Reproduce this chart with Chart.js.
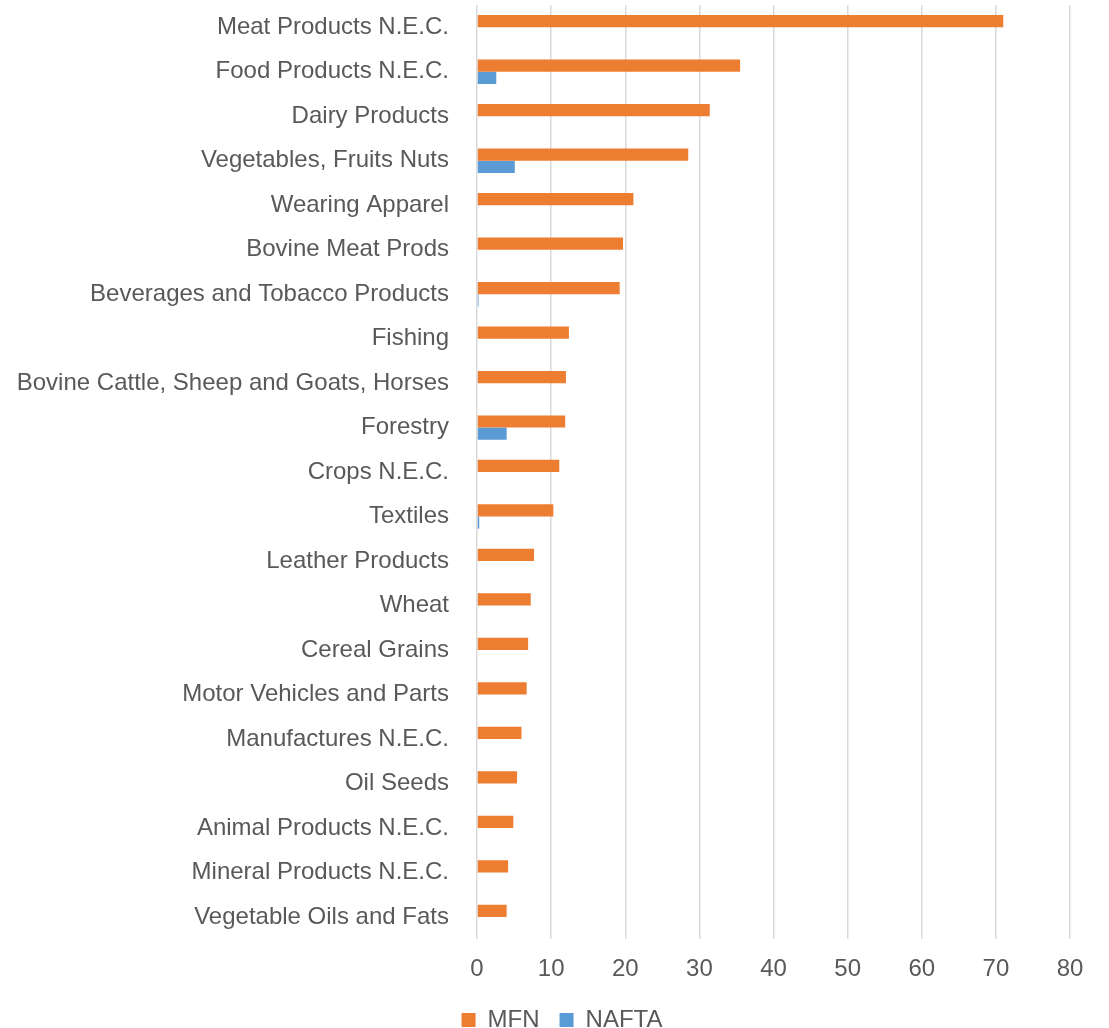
<!DOCTYPE html>
<html>
<head>
<meta charset="utf-8">
<script src="https://cdn.jsdelivr.net/npm/chart.js@4/dist/chart.umd.min.js"></script>
<style>
    html, body { margin: 0; padding: 0; background: #fff; }
    #wrap { width: 1109px; height: 1028px; position: relative; }
</style>
</head>
<body>
<div id="wrap"><canvas id="tariffChart"></canvas></div>
<script>
// Sectors, top to bottom
const sectors = [
    'Meat Products N.E.C.',
    'Food Products N.E.C.',
    'Dairy Products',
    'Vegetables, Fruits Nuts',
    'Wearing Apparel',
    'Bovine Meat Prods',
    'Beverages and Tobacco Products',
    'Fishing',
    'Bovine Cattle, Sheep and Goats, Horses',
    'Forestry',
    'Crops N.E.C.',
    'Textiles',
    'Leather Products',
    'Wheat',
    'Cereal Grains',
    'Motor Vehicles and Parts',
    'Manufactures N.E.C.',
    'Oil Seeds',
    'Animal Products N.E.C.',
    'Mineral Products N.E.C.',
    'Vegetable Oils and Fats'
];

// Tariff rates (%)
const mfnRates = [71.0, 35.5, 31.4, 28.5, 21.1, 19.7, 19.25, 12.4, 12.0, 11.9, 11.1, 10.3,
                  7.7, 7.25, 6.9, 6.7, 6.0, 5.4, 4.9, 4.2, 4.0];
const naftaRates = [0, 2.6, 0, 5.1, 0, 0, 0.2, 0, 0, 4.0, 0, 0.3,
                    0, 0, 0, 0, 0, 0, 0, 0, 0];

const xTicks = [0, 10, 20, 30, 40, 50, 60, 70, 80];

const textColor = '#595959';
const gridColor = '#D9D9D9';
const fontFamily = '"Liberation Sans", Arial, sans-serif';
const fontSize = 24;

const ctx = document.getElementById('tariffChart');
new Chart(ctx, {
    type: 'bar',
    data: {
        labels: sectors,
        datasets: [
            {
                label: 'MFN',
                data: mfnRates,
                backgroundColor: '#ED7D31',
                borderWidth: 0,
                categoryPercentage: 0.55,
                barPercentage: 1.0
            },
            {
                label: 'NAFTA',
                data: naftaRates,
                backgroundColor: '#5B9BD5',
                borderWidth: 0,
                categoryPercentage: 0.55,
                barPercentage: 1.0
            }
        ]
    },
    options: {
        indexAxis: 'y',
        responsive: true,
        maintainAspectRatio: false,
        animation: false,
        layout: {
            padding: { left: 15, right: 0, top: 5, bottom: -14 }
        },
        plugins: {
            legend: {
                display: true,
                position: 'bottom',
                labels: {
                    color: textColor,
                    font: { family: fontFamily, size: fontSize },
                    boxWidth: 14,
                    boxHeight: 14,
                    padding: 20
                }
            },
            tooltip: { enabled: false }
        },
        scales: {
            x: {
                min: 0,
                max: 80,
                afterBuildTicks: function(axis) {
                    axis.ticks = xTicks.map(v => ({ value: v }));
                },
                grid: {
                    color: gridColor,
                    lineWidth: 1.5,
                    drawTicks: false
                },
                border: { display: false },
                ticks: {
                    color: textColor,
                    font: { family: fontFamily, size: fontSize },
                    padding: 16
                },
                // pull the plot down toward the legend and keep room right of "80"
                afterFit: function(scale) {
                    scale.height -= 12;
                    scale.paddingRight = 39;
                }
            },
            y: {
                grid: { display: false, drawTicks: false },
                border: { display: false },
                ticks: {
                    color: textColor,
                    font: { family: fontFamily, size: fontSize },
                    padding: 28,
                    autoSkip: false
                },
                // fixed label column, no extra space above/below the first and last rows
                afterFit: function(scale) {
                    scale.width = 462;
                    scale.paddingTop = 0;
                    scale.paddingBottom = 0;
                }
            }
        }
    }
});
</script>
</body>
</html>
